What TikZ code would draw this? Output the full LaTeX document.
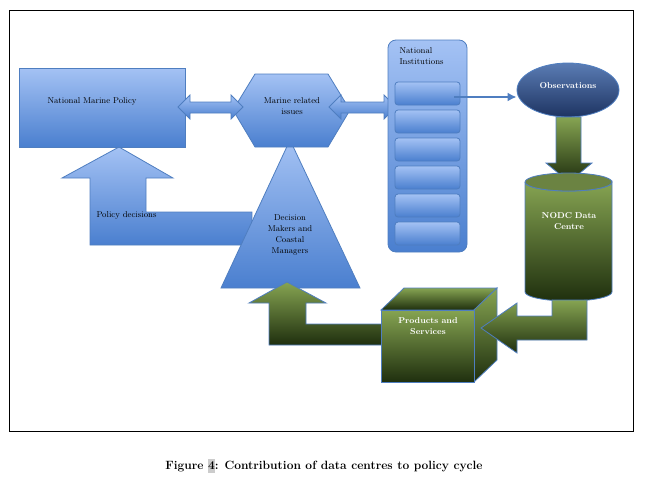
\documentclass[tikz,border=0pt]{standalone}
\usepackage{xcolor}
\usetikzlibrary{shapes.geometric,arrows.meta}
\definecolor{bluetop}{HTML}{A4C2F4}
\definecolor{bluebot}{HTML}{4A7FCF}
\definecolor{blueline}{HTML}{4F7EC0}
\definecolor{greentop}{HTML}{86A452}
\definecolor{greenbot}{HTML}{1F2F0E}
\definecolor{obstop}{HTML}{5A7CB4}
\definecolor{obsbot}{HTML}{1E3462}
\tikzset{
  bluebox/.style={draw=blueline, line width=0.8pt, top color=bluetop, bottom color=bluebot},
  greenbox/.style={draw=blueline, line width=0.8pt, top color=greentop, bottom color=greenbot},
  lbl/.style={font=\fontsize{8.5}{11}\selectfont, align=center},
  wlbl/.style={lbl, text=white, font=\fontsize{8.5}{11}\selectfont\bfseries}
}
\begin{document}
\begin{tikzpicture}[x=1pt,y=-1pt]
  \useasboundingbox (0,0) rectangle (650,493);
  % frame
  \draw[line width=0.8pt] (9,10) rectangle (633,431);

  % policy decisions arrow
  \draw[bluebox] (119,147) -- (173,178) -- (146,178) -- (146,212) -- (252,212)
     -- (252,245) -- (90,245) -- (90,178) -- (62,178) -- cycle;
  \node[lbl, anchor=west] (pdec) at (93,215) {Policy decisions};

  % decision makers
  \draw[bluebox] (290,140) -- (360,288) -- (221,288) -- cycle;
  \node[lbl] (dm) at (290,235) {Decision\\Makers and\\Coastal\\Managers};

  % national marine policy
  \draw[bluebox] (19,68) rectangle (185,147);
  \node[lbl, anchor=west] (nmp) at (44,101) {National Marine Policy};

  % marine related issues
  \draw[bluebox] (233,110) -- (255,74) -- (328,74) -- (350,110) -- (328,147) -- (255,147) -- cycle;
  \node[lbl] (mri) at (292,106) {Marine related\\issues};

  % double arrows
  \foreach \xa/\xb in {178/243, 329/396}
    \draw[bluebox] (\xa,107) -- (\xa+12,95) -- (\xa+12,102) -- (\xb-12,102) -- (\xb-12,95) -- (\xb,107)
       -- (\xb-12,119) -- (\xb-12,113) -- (\xa+12,113) -- (\xa+12,119) -- cycle;

  % national institutions
  \draw[bluebox, rounded corners=8pt] (388,40) rectangle (467,252);
  \node[lbl, anchor=north west, align=left] (ni) at (396,44) {National\\Institutions};
  \foreach \i in {0,...,5}
    \draw[bluebox, rounded corners=3pt] (395,82+28*\i) rectangle (460,105+28*\i);
  \coordinate (nibox) at (454,97);

  % observations
  \node[ellipse, draw=blueline, line width=0.8pt, top color=obstop, bottom color=obsbot,
        minimum width=102pt, minimum height=54pt] (obs) at (568,90) {};
  \node[wlbl] at (568,86) {Observations};
  \draw[blueline, line width=2pt, -{Latex[length=9pt,width=9pt]}] (nibox) -- (nibox -| obs.west);

  % down arrow to data centre
  \draw[greenbox] (556,117) -- (581,117) -- (581,163) -- (592,163) -- (569,182) -- (546,163) -- (556,163) -- cycle;

  % NODC data centre
  \draw[greenbox] (525,182) -- (525,292) arc[start angle=180, end angle=0, x radius=43.5, y radius=9]
     -- (612,182) arc[start angle=0, end angle=180, x radius=43.5, y radius=9];
  \draw[blueline, line width=0.8pt, fill=greentop!80!black] (568.5,182) ellipse[x radius=43.5, y radius=9];
  \node[wlbl] (nodc) at (569,221) {NODC\,\,Data\\Centre};

  % arrow up to decision makers
  \draw[greenbox] (287,282) -- (326,303) -- (306,303) -- (306,324) -- (383,324) -- (383,345)
     -- (269,345) -- (269,303) -- (249,303) -- cycle;

  % products and services cube
  \draw[greenbox] (381,310) -- (404,288) -- (497,288) -- (474,310) -- cycle;
  \draw[greenbox] (474,310) -- (497,288) -- (497,360) -- (474,382) -- cycle;
  \draw[greenbox] (381,310) rectangle (474,382);
  \node[wlbl] (ps) at (428,326) {Products and\\Services};

  % arrow to products
  \draw[greenbox] (552,300) -- (587,300) -- (587,340) -- (517,340) -- (517,353) -- (481,328)
     -- (517,303) -- (517,316) -- (552,316) -- cycle;

  % caption
  \node[font=\fontsize{12}{14}\selectfont\bfseries] (cap) at (324,466)
    {Figure \colorbox{gray!40}{\hspace{-3pt}4\hspace{-3pt}}: Contribution of data centres to policy cycle};
\end{tikzpicture}
\end{document}
